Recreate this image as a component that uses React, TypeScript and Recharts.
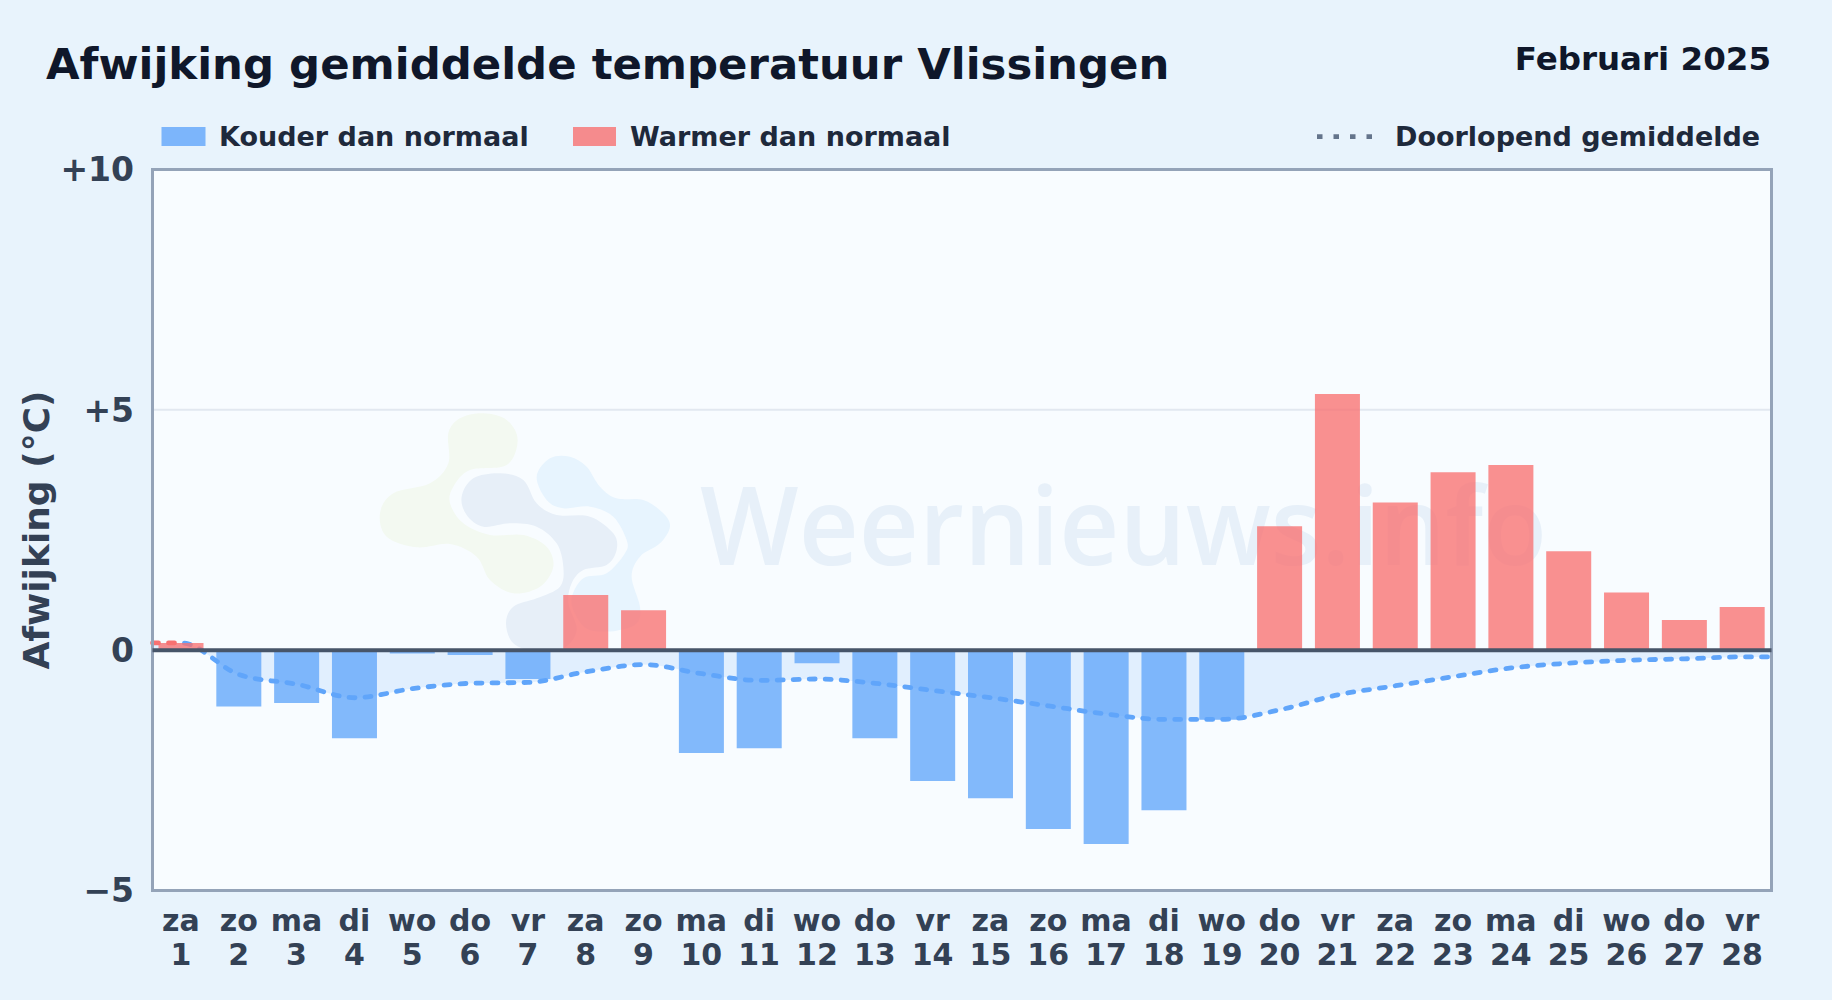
import React from "react";
import { ComposedChart, Bar, Area, Cell, XAxis, YAxis, CartesianGrid, ReferenceLine, ReferenceArea } from "recharts";

const weekdays = ["za","zo","ma","di","wo","do","vr","za","zo","ma","di","wo","do","vr","za","zo","ma","di","wo","do","vr","za","zo","ma","di","wo","do","vr"];
const days = [1,2,3,4,5,6,7,8,9,10,11,12,13,14,15,16,17,18,19,20,21,22,23,24,25,26,27,28];
const deviation = [0.15,-1.17,-1.1,-1.83,-0.07,-0.1,-0.6,1.15,0.83,-2.14,-2.04,-0.27,-1.83,-2.72,-3.08,-3.72,-4.03,-3.33,-1.45,2.58,5.33,3.07,3.7,3.85,2.06,1.2,0.63,0.9];
const runningMean = [0.15,-0.51,-0.71,-0.99,-0.8,-0.69,-0.67,-0.45,-0.3,-0.49,-0.63,-0.6,-0.69,-0.84,-0.99,-1.16,-1.33,-1.44,-1.44,-1.24,-0.93,-0.74,-0.55,-0.37,-0.27,-0.21,-0.18,-0.14];
const yTicks = [-5,0,5,10];
const yTickLabels: Record<number,string> = { "-5":"−5", 0:"0", 5:"+5", 10:"+10" };

const FONT = "'DejaVu Sans', sans-serif";
const COLD = "#60a5fa";
const WARM = "#f87171";

const barData = days.map((d, i) => ({ day: d, value: deviation[i] }));
const meanData = [
  { pos: 0.5, mean: runningMean[0] },
  ...days.map((d, i) => ({ pos: d, mean: runningMean[i] })),
  { pos: 28.5, mean: runningMean[27] },
];

function blob(pts: number[][]) {
  const n = pts.length;
  let d = `M${pts[0][0]},${pts[0][1]}`;
  for (let i = 0; i < n; i++) {
    const p0 = pts[(i - 1 + n) % n], p1 = pts[i], p2 = pts[(i + 1) % n], p3 = pts[(i + 2) % n];
    d += `C${p1[0] + (p2[0] - p0[0]) / 6},${p1[1] + (p2[1] - p0[1]) / 6} ${p2[0] - (p3[0] - p1[0]) / 6},${p2[1] - (p3[1] - p1[1]) / 6} ${p2[0]},${p2[1]}`;
  }
  return d + "Z";
}
const greenBlob = [[295,130],[330,85],[400,70],[470,90],[503,150],[470,225],[360,240],[310,290],[300,340],[340,400],[420,435],[520,435],[590,470],[610,530],[570,590],[490,610],[420,570],[380,500],[300,462],[200,472],[110,440],[90,370],[130,310],[240,280],[295,220]];
const centerBlob = [[335,320],[370,265],[450,250],[520,270],[560,340],[620,375],[720,380],[790,430],[800,480],[770,525],[700,540],[665,580],[655,640],[680,720],[640,775],[560,785],[490,760],[468,700],[490,650],[560,625],[630,590],[640,530],[620,460],[560,410],[480,400],[400,410],[350,375]];
const blueBlob = [[560,260],[600,205],[660,200],[710,230],[750,290],[800,325],[880,330],[940,370],[960,410],[930,460],[870,500],[845,560],[870,650],[860,700],[800,722],[720,720],[680,680],[665,625],[700,565],[770,550],[825,490],[830,450],[790,380],[720,350],[640,355],[590,330]];

function XTick({ x, payload }: any) {
  const i = days.indexOf(payload.value);
  if (i < 0) return null;
  return (
    <text textAnchor="middle" fontFamily={FONT} fontWeight={700} fontSize={30} fill="#334155">
      <tspan x={x - 0.5} y={930.5}>{weekdays[i]}</tspan>
      <tspan x={x - 0.5} y={964.5}>{days[i]}</tspan>
    </text>
  );
}

export default function App() {
  return (
    <div style={{ position: "fixed", left: 0, top: 0, width: 1832, height: 1000, background: "#e8f3fc", overflow: "hidden" }}>
      <svg width={1832} height={1000} style={{ position: "absolute", left: 0, top: 0 }}>
        <rect x={152.5} y={169.5} width={1619} height={721} fill="#f8fcff" />
        <g transform="translate(350,390) scale(0.3333)">
          <path d={blob(greenBlob)} fill="#f3f9f1" />
          <path d={blob(blueBlob)} fill="#e7f4fe" />
          <path d={blob(centerBlob)} fill="#e7eff8" />
        </g>
        <text x={700} y={565} fontFamily="'Open Sans', sans-serif" fontWeight={600} fontSize={108} textLength={847} lengthAdjust="spacingAndGlyphs" fill="#e7f0f9">Weernieuws.info</text>
        <text x={46} y={79} fontFamily={FONT} fontWeight={700} fontSize={43.4} fill="#0f172a">Afwijking gemiddelde temperatuur Vlissingen</text>
        <text x={1771} y={70} textAnchor="end" fontFamily={FONT} fontWeight={700} fontSize={32.5} fill="#0f172a">Februari 2025</text>
        <g fontFamily={FONT} fontWeight={700} fontSize={27} fill="#1e293b">
          <rect x={161.5} y={127} width={44} height={19} fill={COLD} fillOpacity={0.8} />
          <text x={219} y={146}>Kouder dan normaal</text>
          <rect x={573} y={127} width={43} height={19} fill={WARM} fillOpacity={0.8} />
          <text x={630} y={146}>Warmer dan normaal</text>
          <line x1={1317} x2={1375} y1={136.7} y2={136.7} stroke="#64748b" strokeWidth={4.8} strokeDasharray="5.5 11" />
          <text x={1395} y={146}>Doorlopend gemiddelde</text>
        </g>
      </svg>
      <div style={{ position: "absolute", left: 0, top: 0 }}>
        <ComposedChart width={1832} height={1000} data={barData} margin={{ top: 169.5, right: 60.5, bottom: 0, left: 0 }}>
          <defs>
            <linearGradient id="meanStroke" x1="0" y1="0" x2="1" y2="0">
              <stop offset={0.5 / 28} stopColor={WARM} />
              <stop offset={0.5 / 28} stopColor={COLD} />
            </linearGradient>
          </defs>
          <CartesianGrid horizontal vertical={false} stroke="#e2e8f0" strokeWidth={2} />
          <XAxis dataKey="day" type="category" interval={0} height={109.5} tick={<XTick />} tickLine={false} axisLine={false} />
          <XAxis xAxisId="mean" dataKey="pos" type="number" domain={[0.5, 28.5]} hide />
          <YAxis
            type="number"
            domain={[-5, 10]}
            ticks={yTicks}
            width={152.5}
            tickLine={false}
            axisLine={false}
            tickMargin={12.5}
            tickFormatter={(v: number) => yTickLabels[v]}
            tick={{ fontFamily: FONT, fontWeight: 700, fontSize: 33, fill: "#334155" }}
            label={{ value: "Afwijking (°C)", angle: -90, position: "insideLeft", offset: 36, style: { fontFamily: FONT, fontWeight: 700, fontSize: 36, fill: "#334155", textAnchor: "middle" } }}
          />
          <Bar dataKey="value" barSize={45} isAnimationActive={false}>
            {barData.map((d, i) => (
              <Cell key={i} fill={d.value < 0 ? COLD : WARM} fillOpacity={0.78} />
            ))}
          </Bar>
          <Area
            data={meanData}
            xAxisId="mean"
            dataKey="mean"
            type="monotone"
            baseValue={0}
            stroke="url(#meanStroke)"
            strokeWidth={4.8}
            strokeDasharray="6 10"
            strokeLinecap="round"
            fill={COLD}
            fillOpacity={0.15}
            dot={false}
            activeDot={false}
            isAnimationActive={false}
          />
          <ReferenceLine y={0} stroke="#475569" strokeWidth={4} />
          <ReferenceArea y1={-5} y2={10} fill="none" stroke="#94a3b8" strokeWidth={3} ifOverflow="visible" />
        </ComposedChart>
      </div>
    </div>
  );
}
